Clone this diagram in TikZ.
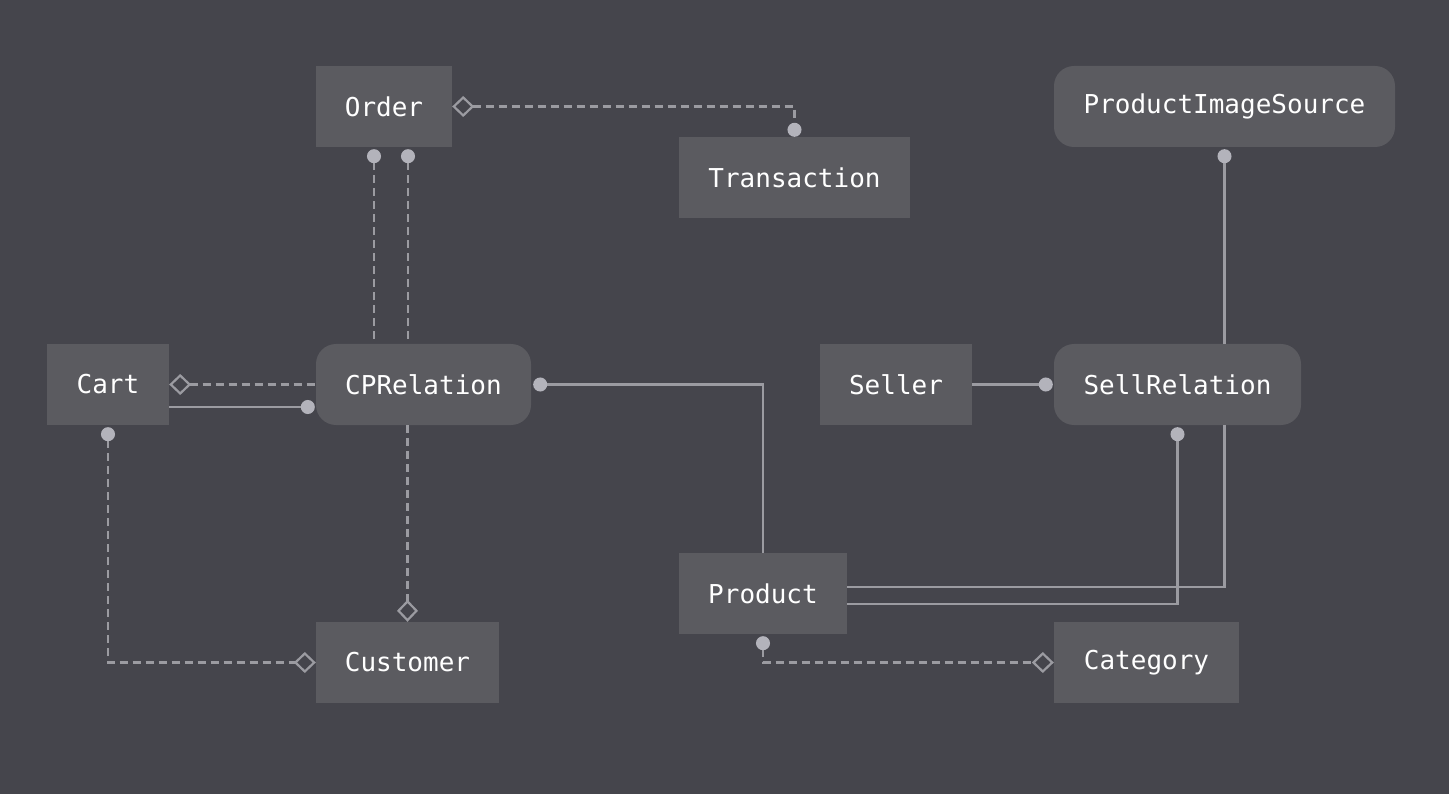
\documentclass[tikz,border=0pt]{standalone}
\usepackage{fontspec}
\setmonofont{DejaVu Sans Mono}
\usetikzlibrary{arrows.meta,calc}
\definecolor{bgc}{HTML}{45454C}
\definecolor{nodefill}{HTML}{5B5B60}
\definecolor{linec}{HTML}{9B9BA1}
\definecolor{dotc}{HTML}{B3B3BB}
\begin{document}
\begin{tikzpicture}[x=1pt,y=-1pt,
  ent/.style={fill=nodefill, text=white, font=\ttfamily\fontsize{26}{30}\selectfont, minimum height=81pt, inner sep=0pt},
  rel/.style={ent, rounded corners=20pt},
  conn/.style={draw=linec, line width=2.2pt},
  dsh/.style={conn, dash pattern=on 8pt off 5pt},
  dotA/.style={{Circle[length=14pt,color=dotc]}-},
  dotB/.style={-{Circle[length=14pt,color=dotc]}},
  diaA/.style={{Diamond[open,length=22pt,width=21pt,line width=2.2pt,color=linec]}-},
  diaB/.style={-{Diamond[open,length=22pt,width=21pt,line width=2.2pt,color=linec]}},
  diaAdotB/.style={{Diamond[open,length=22pt,width=21pt,line width=2.2pt,color=linec]}-{Circle[length=14pt,color=dotc]}},
  dotAdiaB/.style={{Circle[length=14pt,color=dotc]}-{Diamond[open,length=22pt,width=21pt,line width=2.2pt,color=linec]}},
]
\fill[bgc] (0,0) rectangle (1449,794);
\useasboundingbox (0,0) rectangle (1449,794);

\node[ent, minimum width=136pt] (Order) at (384,106.5) {Order};
\node[ent, minimum width=231pt] (Transaction) at (794.5,177.5) {Transaction};
\node[rel, minimum width=341pt] (PIS) at (1224.5,106.5) {ProductImageSource};
\node[ent, minimum width=122pt] (Cart) at (108,384.5) {Cart};
\node[rel, minimum width=215pt] (CPR) at (423.5,384.5) {CPRelation};
\node[ent, minimum width=152pt] (Seller) at (896,384.5) {Seller};
\node[rel, minimum width=247pt] (SR) at (1177.5,384.5) {SellRelation};
\node[ent, minimum width=168pt] (Product) at (763,593.5) {Product};
\node[ent, minimum width=183pt] (Customer) at (407.5,662.5) {Customer};
\node[ent, minimum width=185pt] (Category) at (1146.5,662.5) {Category};

% Order - Transaction
\draw[dsh, diaAdotB] (Order.east) -| (Transaction.north);
% Order - CPRelation (two dashed)
\draw[dsh, dotA, shorten <=2pt] ([xshift=-10pt]Order.south) -- ([xshift=-10pt]Order.south |- CPR.north);
\draw[dsh, dotA, shorten <=2pt] ([xshift=24pt]Order.south) -- ([xshift=24pt]Order.south |- CPR.north);
% Cart - CPRelation
\draw[dsh, diaA] (Cart.east) -- (CPR.west);
\draw[conn, dotB, shorten >=1pt] ([yshift=-22.5pt]Cart.east) -- ([yshift=-22.5pt]Cart.east -| CPR.west);
% CPRelation - Product
\draw[conn, dotA, shorten <=2pt] (CPR.east) -| (Product.north);
% CPRelation - Customer
\draw[dsh, diaB] (CPR.south -| Customer.north) -- (Customer.north);
% Cart - Customer
\draw[dsh, dotAdiaB, shorten <=2pt] (Cart.south) |- (Customer.west);
% Seller - SellRelation
\draw[conn, dotB, shorten >=1pt] (Seller.east) -- (SR.west);
% ProductImageSource - SellRelation
\draw[conn, dotA, shorten <=2pt] (PIS.south) -- (PIS.south |- SR.north);
% Product - SellRelation
\draw[conn] ([yshift=6.5pt]Product.east) -| ([xshift=47pt]SR.south);
\draw[conn, dotB, shorten >=2pt] ([yshift=-10.5pt]Product.east) -| (SR.south);
% Product - Category
\draw[dsh, dotAdiaB, shorten <=2pt] (Product.south) |- (Category.west);
\end{tikzpicture}
\end{document}
